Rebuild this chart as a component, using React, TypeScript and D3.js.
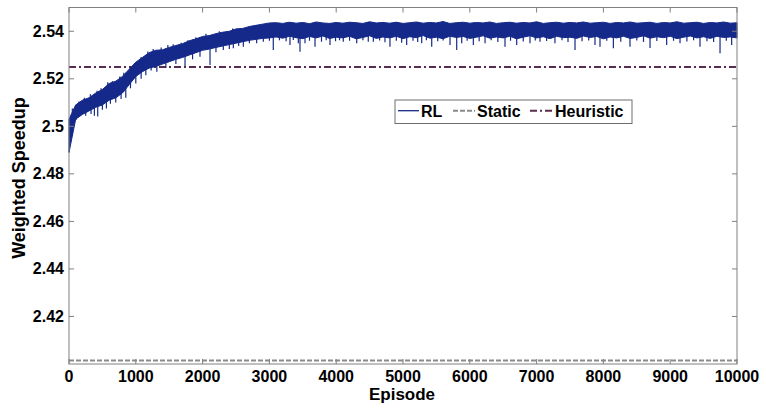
import React from "react";
import * as d3 from "d3";

const W = 766;
const H = 409;

// RL envelope (dense band), read every 100 episodes (0..10000)
const rlEpisodes = d3.range(0, 10001, 100);
const rlHigh = [
  2.5030, 2.5090, 2.5110, 2.5120, 2.5140, 2.5155, 2.5180, 2.5190, 2.5210, 2.5240,
  2.5270, 2.5290, 2.5310, 2.5320, 2.5322, 2.5332, 2.5340, 2.5348, 2.5360, 2.5368,
  2.5378, 2.5382, 2.5390, 2.5396, 2.5400, 2.5410, 2.5412, 2.5420, 2.5425, 2.5430,
  2.5435,
  2.5436, 2.5433, 2.5438, 2.5434, 2.5437, 2.5432, 2.5439, 2.5435, 2.5433, 2.5437,
  2.5434, 2.5438, 2.5436, 2.5433, 2.5440, 2.5435, 2.5437, 2.5434, 2.5438, 2.5433,
  2.5436, 2.5439, 2.5434, 2.5437, 2.5435, 2.5441, 2.5433, 2.5436, 2.5438, 2.5434,
  2.5437, 2.5435, 2.5439, 2.5433, 2.5436, 2.5438, 2.5434, 2.5437, 2.5435, 2.5440,
  2.5433, 2.5436, 2.5438, 2.5434, 2.5437, 2.5435, 2.5439, 2.5434, 2.5436, 2.5438,
  2.5433, 2.5437, 2.5435, 2.5439, 2.5434, 2.5436, 2.5438, 2.5433, 2.5437, 2.5435,
  2.5440, 2.5434, 2.5436, 2.5438, 2.5433, 2.5437, 2.5435, 2.5439, 2.5434, 2.5436,
];
const rlLow = [
  2.4890, 2.5030, 2.5050, 2.5065, 2.5080, 2.5090, 2.5110, 2.5120, 2.5140, 2.5175,
  2.5210, 2.5230, 2.5245, 2.5252, 2.5262, 2.5272, 2.5282, 2.5290, 2.5300, 2.5310,
  2.5320, 2.5325, 2.5332, 2.5338, 2.5344, 2.5350, 2.5356, 2.5362, 2.5366, 2.5370,
  2.5372,
  2.5376, 2.5371, 2.5379, 2.5373, 2.5369, 2.5378, 2.5372, 2.5380, 2.5370, 2.5375,
  2.5372, 2.5379, 2.5368, 2.5374, 2.5381, 2.5370, 2.5376, 2.5372, 2.5379, 2.5369,
  2.5377, 2.5373, 2.5382, 2.5371, 2.5375, 2.5369, 2.5379, 2.5374, 2.5378, 2.5370,
  2.5375, 2.5381, 2.5371, 2.5376, 2.5372, 2.5379, 2.5368, 2.5375, 2.5381, 2.5372,
  2.5377, 2.5369, 2.5379, 2.5373, 2.5375, 2.5370, 2.5380, 2.5374, 2.5378, 2.5368,
  2.5376, 2.5372, 2.5379, 2.5370, 2.5374, 2.5381, 2.5371, 2.5377, 2.5373, 2.5379,
  2.5369, 2.5375, 2.5380, 2.5372, 2.5377, 2.5370, 2.5379, 2.5374, 2.5376, 2.5372,
];
// downward spikes below the dense band: episode and minimum value
const rlSpikeEpisodes = [
  105, 150, 250, 330, 380, 430, 500, 560, 620, 700, 780, 850, 920, 1000, 1080, 1150, 1230, 1315, 1450, 1600,
  1737, 1850, 1961, 2111, 2200, 2310, 2400, 2460, 2540, 2610, 2700, 2809, 2909, 3000, 3058, 3150, 3250, 3308, 3358, 3433,
  3458, 3533, 3600, 3683, 3780, 3850, 3907, 3990, 4050, 4106, 4200, 4307, 4400, 4480, 4556, 4650, 4730, 4805, 4900, 4980,
  5055, 5150, 5220, 5280, 5350, 5430, 5520, 5600, 5704, 5804, 5879, 5960, 6053, 6140, 6228, 6320, 6420, 6527, 6610, 6702,
  6800, 6901, 6980, 7051, 7150, 7275, 7380, 7470, 7575, 7680, 7780, 7874, 7949, 8050, 8149, 8260, 8398, 8500, 8600, 8698,
  8800, 8947, 9050, 9147, 9250, 9350, 9446, 9550, 9650, 9746, 9840, 9920,
];
const rlSpikeValues = [
  2.5027, 2.5040, 2.5045, 2.5052, 2.5045, 2.5041, 2.5070, 2.5075, 2.5095, 2.5100, 2.5115, 2.5120, 2.5160, 2.5180, 2.5200, 2.5215, 2.5235, 2.5230, 2.5245, 2.5262,
  2.5251, 2.5282, 2.5293, 2.5258, 2.5312, 2.5321, 2.5325, 2.5329, 2.5338, 2.5335, 2.5350, 2.5350, 2.5356, 2.5360, 2.5321, 2.5362, 2.5358, 2.5342, 2.5363, 2.5350,
  2.5314, 2.5350, 2.5360, 2.5335, 2.5356, 2.5362, 2.5342, 2.5358, 2.5362, 2.5356, 2.5360, 2.5350, 2.5362, 2.5356, 2.5356, 2.5361, 2.5354, 2.5335, 2.5360, 2.5352,
  2.5342, 2.5360, 2.5355, 2.5350, 2.5362, 2.5335, 2.5358, 2.5361, 2.5342, 2.5321, 2.5350, 2.5360, 2.5342, 2.5358, 2.5350, 2.5362, 2.5355, 2.5335, 2.5360, 2.5342,
  2.5357, 2.5350, 2.5361, 2.5356, 2.5359, 2.5350, 2.5362, 2.5355, 2.5321, 2.5358, 2.5361, 2.5342, 2.5335, 2.5360, 2.5329, 2.5356, 2.5335, 2.5361, 2.5355, 2.5330,
  2.5359, 2.5342, 2.5360, 2.5350, 2.5357, 2.5362, 2.5335, 2.5358, 2.5355, 2.5308, 2.5360, 2.5342,
];
// upward spikes above the band during the learning phase
const rlUpEpisodes = [50, 150, 230, 320, 420, 480, 580, 650, 760, 820, 920, 980, 1080, 1180, 1260, 1380, 1480, 1560, 1680, 1780, 1900, 2050, 2250, 2450];
const rlUpValues = [2.5075, 2.5105, 2.5120, 2.5135, 2.5150, 2.5160, 2.5185, 2.5190, 2.5210, 2.5225, 2.5250, 2.5265, 2.5292, 2.5315, 2.5325, 2.5332, 2.5342, 2.5345, 2.5352, 2.5362, 2.5375, 2.5390, 2.5400, 2.5412];

const staticValue = 2.4015;
const heuristicValue = 2.525;

const xTicks = [0, 1000, 2000, 3000, 4000, 5000, 6000, 7000, 8000, 9000, 10000];
const yTicks = [2.42, 2.44, 2.46, 2.48, 2.5, 2.52, 2.54];
const yTickLabels = ["2.42", "2.44", "2.46", "2.48", "2.5", "2.52", "2.54"];

const legendLabels = ["RL", "Static", "Heuristic"];

const BLUE = "#15298a";
const GRAY = "#8a8a8a";
const PURPLE = "#5a2d50";
const AXIS = "#808080";
const FONT = "'Liberation Sans', Arial, sans-serif";

export default function App() {
  const left = 69, right = 737, top = 7.5, bottom = 364;
  const x = d3.scaleLinear().domain([0, 10000]).range([left, right]);
  const y = d3.scaleLinear().domain([2.4, 2.55]).range([bottom, top]);

  const idx = rlEpisodes.map((_, i) => i);
  const band = d3
    .area<number>()
    .x((i) => x(rlEpisodes[i]))
    .y0((i) => y(rlLow[i]))
    .y1((i) => y(rlHigh[i]));
  const hiAt = d3.scaleLinear().domain(rlEpisodes).range(rlHigh);
  const loAt = d3.scaleLinear().domain(rlEpisodes).range(rlLow);

  const tick = 5;

  return (
    <svg width={W} height={H} style={{ position: "absolute", left: 0, top: 0, background: "#fff" }} fontFamily={FONT}>
      <rect x={0} y={0} width={W} height={H} fill="#fff" />
      <rect x={left} y={top} width={right - left} height={bottom - top} fill="#fff" />

      {/* heuristic */}
      <line x1={left} x2={right} y1={y(heuristicValue)} y2={y(heuristicValue)} stroke={PURPLE} strokeWidth={2} strokeDasharray="7,3,2,3" />
      {/* static */}
      <line x1={left} x2={right} y1={y(staticValue)} y2={y(staticValue)} stroke={GRAY} strokeWidth={2} strokeDasharray="5,2" />

      {/* RL */}
      {rlSpikeEpisodes.map((e, i) => (
        <line key={"d" + i} x1={x(e)} x2={x(e)} y1={y(hiAt(e))} y2={y(rlSpikeValues[i])} stroke={BLUE} strokeWidth={1.2} />
      ))}
      {rlUpEpisodes.map((e, i) => (
        <line key={"u" + i} x1={x(e)} x2={x(e)} y1={y(loAt(e))} y2={y(rlUpValues[i])} stroke={BLUE} strokeWidth={1.2} />
      ))}
      <path d={band(idx) || ""} fill={BLUE} stroke={BLUE} strokeWidth={1} strokeLinejoin="round" />

      {/* axes box */}
      <rect x={left} y={top} width={right - left} height={bottom - top} fill="none" stroke={AXIS} strokeWidth={1} />
      {xTicks.map((t) => (
        <g key={t}>
          <line x1={x(t)} x2={x(t)} y1={bottom} y2={bottom - tick} stroke={AXIS} />
          <line x1={x(t)} x2={x(t)} y1={top} y2={top + tick} stroke={AXIS} />
          <text x={x(t)} y={381.5} textAnchor="middle" fontSize={16} fontWeight="bold" fill="#000">{t}</text>
        </g>
      ))}
      {yTicks.map((t, i) => (
        <g key={t}>
          <line x1={left} x2={left + tick} y1={y(t)} y2={y(t)} stroke={AXIS} />
          <line x1={right} x2={right - tick} y1={y(t)} y2={y(t)} stroke={AXIS} />
          <text x={64} y={y(t) + 5.5} textAnchor="end" fontSize={16} fontWeight="bold" fill="#000">{yTickLabels[i]}</text>
        </g>
      ))}

      <text x={402} y={400} textAnchor="middle" fontSize={17} fontWeight="bold" fill="#000">Episode</text>
      <text transform={`translate(25,178) rotate(-90)`} textAnchor="middle" fontSize={18} fontWeight="bold" fill="#000">Weighted Speedup</text>

      {/* legend */}
      <g>
        <rect x={395} y={100} width={237} height={23.5} fill="#fff" stroke="#6e6e6e" strokeWidth={1} />
        <line x1={398} x2={419} y1={110.7} y2={110.7} stroke={BLUE} strokeWidth={1.3} />
        <text x={421} y={117} fontSize={16} fontWeight="bold" fill="#000">{legendLabels[0]}</text>
        <line x1={453} x2={475} y1={110.7} y2={110.7} stroke={GRAY} strokeWidth={2} strokeDasharray="5,2" />
        <text x={477} y={117} fontSize={16} fontWeight="bold" fill="#000">{legendLabels[1]}</text>
        <line x1={530} x2={553} y1={110.7} y2={110.7} stroke={PURPLE} strokeWidth={2} strokeDasharray="7,3,2,3" />
        <text x={555} y={117} fontSize={16} fontWeight="bold" fill="#000">{legendLabels[2]}</text>
      </g>
    </svg>
  );
}
